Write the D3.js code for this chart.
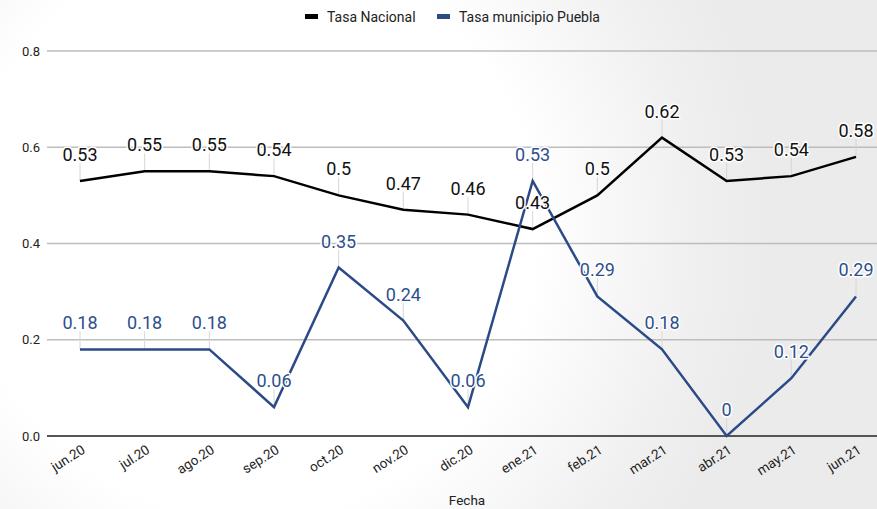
<!DOCTYPE html>
<html>
<head>
<meta charset="utf-8">
<script src="https://cdnjs.cloudflare.com/ajax/libs/d3/7.8.5/d3.min.js"></script>
<style>
  body { margin:0; padding:0; background:#fff; }
  svg { display:block; font-family: Roboto, "Liberation Sans", Arial, sans-serif; }
</style>
</head>
<body>
<svg id="chart"></svg>
<script>
// data
var months = ["jun.20","jul.20","ago.20","sep.20","oct.20","nov.20","dic.20",
              "ene.21","feb.21","mar.21","abr.21","may.21","jun.21"];
var tasaNacional = [0.53,0.55,0.55,0.54,0.5,0.47,0.46,0.43,0.5,0.62,0.53,0.54,0.58];
var tasaPuebla   = [0.18,0.18,0.18,0.06,0.35,0.24,0.06,0.53,0.29,0.18,0,0.12,0.29];
var yTicks = [0,0.2,0.4,0.6,0.8];
var seriesNames = ["Tasa Nacional","Tasa municipio Puebla"];

var screen = {width:877, height:509};
var colors = ["#000000","#2b4a87"];
var labelColors = ["#111111","#2e4f8c"];

var svg = d3.select("#chart")
    .attr("width",screen.width)
    .attr("height",screen.height)

// background shading
var defs = svg.append("defs")
var grad = defs.append("radialGradient")
    .attr("id","bg")
    .attr("gradientUnits","userSpaceOnUse")
    .attr("cx",250).attr("cy",230).attr("r",520)
grad.append("stop").attr("offset","0.55").attr("stop-color","#ffffff")
grad.append("stop").attr("offset","0.85").attr("stop-color","#f0f0f0")
grad.append("stop").attr("offset","1").attr("stop-color","#ebebeb")

svg.append("rect")
    .attr("width",screen.width)
    .attr("height",screen.height)
    .attr("fill","url(#bg)")

//scales
var xScale = d3.scalePoint()
    .domain(months)
    .range([80,856])

var yScale = d3.scaleLinear()
    .domain([0,0.8])
    .range([436,51])

var plotLeft = 47, plotRight = 877;

//gridlines + y labels
var grid = svg.append("g")
grid.selectAll("line")
    .data(yTicks)
    .enter()
    .append("line")
    .attr("x1",plotLeft)
    .attr("x2",plotRight)
    .attr("y1",function(d){return yScale(d)})
    .attr("y2",function(d){return yScale(d)})
    .attr("stroke",function(d){return d==0 ? "#555" : "#bdbdbd"})
    .attr("stroke-width",function(d){return d==0 ? 2 : 1.5})

grid.selectAll("text")
    .data(yTicks)
    .enter()
    .append("text")
    .text(function(d){return d.toFixed(1)})
    .attr("x",40)
    .attr("y",function(d){return yScale(d)+4.5})
    .attr("text-anchor","end")
    .attr("font-size",13)
    .attr("fill","#222")

//x labels
svg.append("g")
    .selectAll("text")
    .data(months)
    .enter()
    .append("text")
    .text(function(d){return d})
    .attr("text-anchor","end")
    .attr("font-size",13.5)
    .attr("fill","#222")
    .attr("transform",function(d){
        return "translate("+(xScale(d)+6)+",452) rotate(-33)"
    })

svg.append("text")
    .text("Fecha")
    .attr("x",467)
    .attr("y",505)
    .attr("text-anchor","middle")
    .attr("font-size",13.5)
    .attr("fill","#222")

//lines
var lineGenerator = d3.line()
    .x(function(v,i){return xScale(months[i])})
    .y(function(v){return yScale(v)})

var allSeries = [tasaNacional, tasaPuebla];

// leader lines first
allSeries.forEach(function(values,s){
    svg.append("g")
        .selectAll("line")
        .data(values)
        .enter()
        .append("line")
        .attr("x1",function(v,i){return xScale(months[i])})
        .attr("x2",function(v,i){return xScale(months[i])})
        .attr("y1",function(v){return yScale(v)})
        .attr("y2",function(v){return yScale(v)-18})
        .attr("stroke","#d6d6d6")
        .attr("stroke-width",1)
})

allSeries.forEach(function(values,s){
    svg.append("path")
        .datum(values)
        .attr("d",lineGenerator)
        .attr("fill","none")
        .attr("stroke",colors[s])
        .attr("stroke-width",2.5)
})

allSeries.forEach(function(values,s){
    svg.append("g")
        .selectAll("text")
        .data(values)
        .enter()
        .append("text")
        .text(function(v){return String(v)})
        .attr("x",function(v,i){return xScale(months[i])})
        .attr("y",function(v){return yScale(v)-20})
        .attr("text-anchor","middle")
        .attr("font-size",18)
        .attr("fill",labelColors[s])
        .attr("stroke","#ffffff")
        .attr("stroke-width",3)
        .attr("stroke-linejoin","round")
        .attr("paint-order","stroke")
})

//legend
var legend = svg.append("g")
var legendX = [305,437];
seriesNames.forEach(function(name,s){
    legend.append("rect")
        .attr("x",legendX[s])
        .attr("y",14)
        .attr("width",13)
        .attr("height",5)
        .attr("fill",colors[s])
    legend.append("text")
        .text(name)
        .attr("x",legendX[s]+22)
        .attr("y",21.5)
        .attr("font-size",14)
        .attr("fill","#222")
})
</script>
</body>
</html>
